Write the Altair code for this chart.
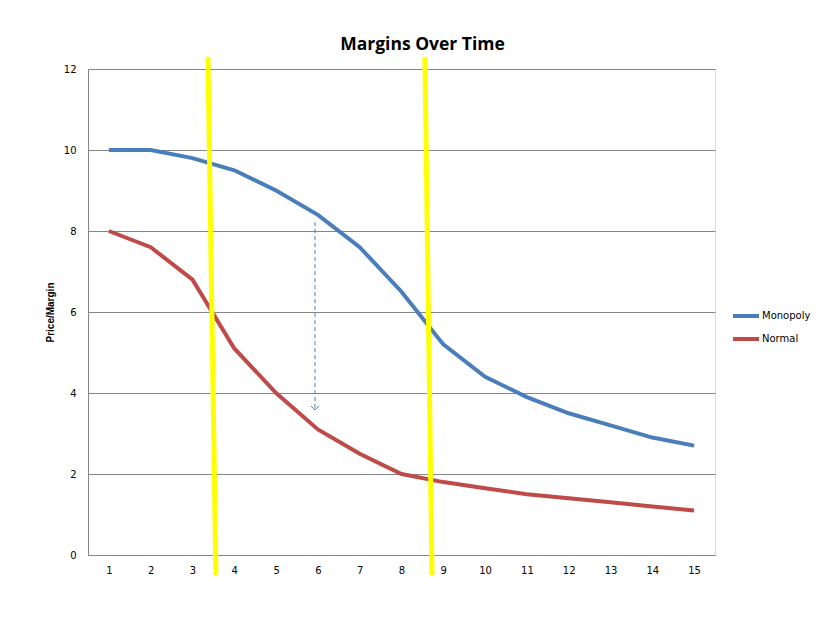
import altair as alt
import pandas as pd

# ---- data ----
periods = list(range(1, 16))
monopoly = [10.0, 10.0, 9.8, 9.5, 9.0, 8.4, 7.6, 6.5, 5.2, 4.4, 3.9, 3.5, 3.2, 2.9, 2.7]
normal = [8.0, 7.6, 6.8, 5.1, 4.0, 3.1, 2.5, 2.0, 1.8, 1.65, 1.5, 1.4, 1.3, 1.2, 1.1]
series_names = ["Monopoly", "Normal"]
series_colors = ["#4A7EBB", "#BE4B48"]
y_ticks = [0, 2, 4, 6, 8, 10, 12]

# hand-drawn annotations (data coordinates)
yellow_x_top = [3.37, 8.56]
yellow_x_bottom = [3.56, 8.73]
yellow_y_top = [12.3, 12.3]
yellow_y_bottom = [-0.49, -0.49]
arrow_x = [5.93]
arrow_y_start = [8.22]
arrow_y_end = [3.58]

lines_df = pd.DataFrame({
    "x": periods * 2,
    "y": monopoly + normal,
    "series": [series_names[0]] * len(periods) + [series_names[1]] * len(periods),
})
yellow_df = pd.DataFrame({"x": yellow_x_top, "y": yellow_y_top,
                          "x2": yellow_x_bottom, "y2": yellow_y_bottom})
arrow_df = pd.DataFrame({"x": arrow_x, "y": arrow_y_start, "x2": arrow_x, "y2": arrow_y_end})
arrow_head_df = pd.DataFrame({"x": arrow_x, "y": arrow_y_end})

x_scale = alt.Scale(domain=[0.5, 15.5], nice=False, zero=False)
y_scale = alt.Scale(domain=[0, 12], nice=False, zero=False)

lines = alt.Chart(lines_df).mark_line(strokeWidth=4).encode(
    x=alt.X("x:Q", scale=x_scale,
            axis=alt.Axis(values=periods, grid=False, ticks=False, title=None,
                          labelPadding=10, labelFont="DejaVu Sans", labelFontSize=10,
                          labelColor="#000000", domainColor="#868686", format="d")),
    y=alt.Y("y:Q", scale=y_scale,
            axis=alt.Axis(values=y_ticks, grid=True, gridColor="#868686", ticks=False,
                          title="Price/Margin", titleFont="Liberation Sans", titleFontSize=10,
                          titleFontWeight="bold", titleColor="#000000", titlePadding=8,
                          labelPadding=12, labelFont="DejaVu Sans", labelFontSize=10,
                          labelColor="#000000", domainColor="#868686")),
    color=alt.Color("series:N",
                    scale=alt.Scale(domain=series_names, range=series_colors),
                    legend=alt.Legend(title=None, orient="none", legendX=643, legendY=232,
                                      symbolType="stroke", symbolSize=676,
                                      symbolStrokeWidth=4, rowPadding=-7,
                                      labelFont="DejaVu Sans", labelFontSize=10,
                                      labelColor="#000000", labelOffset=1)),
    detail="series:N",
)

arrow = alt.Chart(arrow_df).mark_rule(color="#4A7EBB", strokeWidth=1, strokeDash=[4, 3]).encode(
    x="x:Q", y="y:Q", x2="x2:Q", y2="y2:Q"
)
arrow_head = alt.Chart(arrow_head_df).mark_point(
    shape="M-1,-1L0,0L1,-1", size=64, filled=False, color="#4A7EBB", strokeWidth=1, opacity=1
).encode(x="x:Q", y="y:Q")

yellow = alt.Chart(yellow_df).mark_rule(color="#FFFF00", strokeWidth=5).encode(
    x="x:Q", y="y:Q", x2="x2:Q", y2="y2:Q"
)

chart = alt.layer(lines, arrow, arrow_head, yellow).properties(
    width=627, height=486,
    title=alt.TitleParams("Margins Over Time", font="Open Sans", fontSize=17.5,
                          fontWeight="bold", anchor="middle", dx=21, offset=1,
                          color="#000000"),
    autosize=alt.AutoSizeParams(type="none"),
    padding={"left": 80, "top": 61, "right": 110, "bottom": 60},
).configure_view(stroke=None).configure(background="white")

chart.save("out.html", embed_options={"renderer": "svg", "actions": False})
